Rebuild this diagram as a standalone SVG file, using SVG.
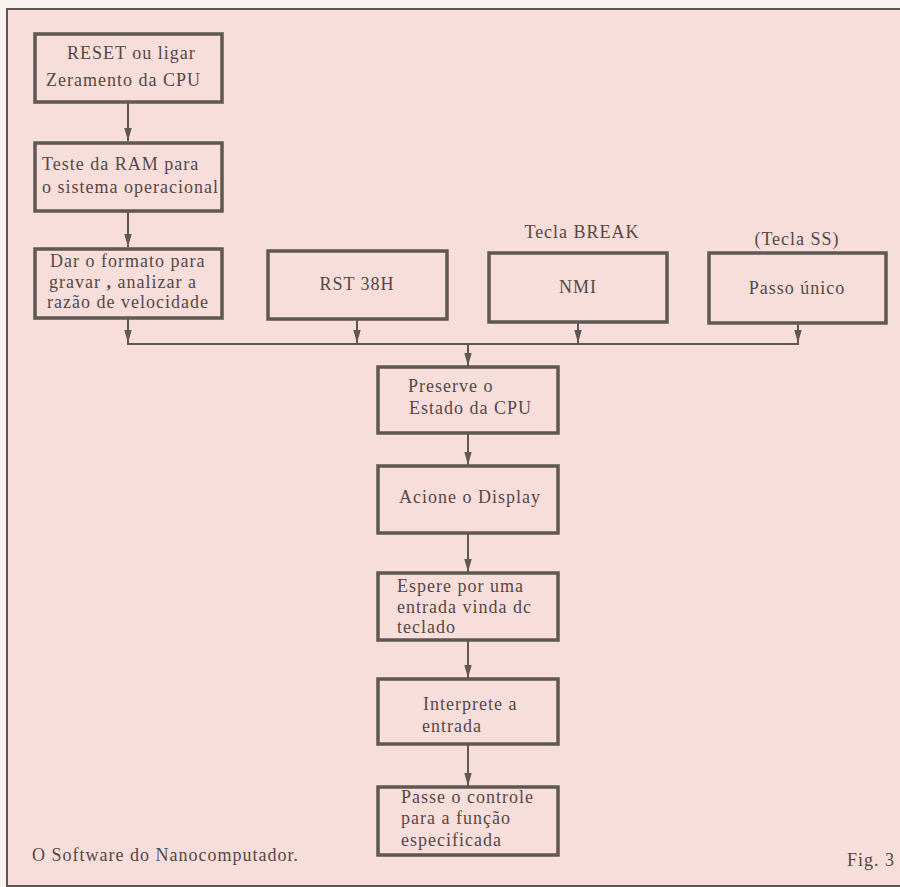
<svg xmlns="http://www.w3.org/2000/svg" width="900" height="887" viewBox="0 0 900 887">
<defs>
<marker id="ah" viewBox="0 0 13 14" refX="13" refY="7" markerWidth="13" markerHeight="14" markerUnits="userSpaceOnUse" orient="auto">
<path d="M0,3.3 L13,7 L0,10.7 Z" fill="#5e5753"/>
</marker>
</defs>
<style>
.box{fill:none;stroke:#5e5753;stroke-width:3.5}
.t{font-family:"Liberation Serif","Times New Roman",serif;font-size:18px;fill:#544845;letter-spacing:1px}
.c{stroke:#5e5753;stroke-width:2;fill:none}
.m{text-anchor:middle}
</style>
<rect x="0" y="0" width="900" height="887" fill="#fbf1ef"/>
<rect x="7" y="9" width="893" height="877" fill="#f8dedb"/>
<path d="M900,9 H7 V886 H900" fill="none" stroke="#5e5753" stroke-width="2"/>

<g id="connectors">
<line class="c" x1="128" y1="102" x2="128" y2="141" marker-end="url(#ah)"/>
<line class="c" x1="128" y1="211" x2="128" y2="247" marker-end="url(#ah)"/>
<line class="c" x1="128" y1="318" x2="128" y2="343" marker-end="url(#ah)"/>
<line class="c" x1="357" y1="319" x2="357" y2="343" marker-end="url(#ah)"/>
<line class="c" x1="578" y1="322" x2="578" y2="343" marker-end="url(#ah)"/>
<line class="c" x1="798" y1="323" x2="798" y2="343" marker-end="url(#ah)"/>
<line class="c" x1="127" y1="344" x2="799" y2="344"/>
<line class="c" x1="468" y1="344" x2="468" y2="366" marker-end="url(#ah)"/>
<line class="c" x1="468" y1="433" x2="468" y2="465" marker-end="url(#ah)"/>
<line class="c" x1="468" y1="533" x2="468" y2="572" marker-end="url(#ah)"/>
<line class="c" x1="468" y1="640" x2="468" y2="678" marker-end="url(#ah)"/>
<line class="c" x1="468" y1="744" x2="468" y2="786" marker-end="url(#ah)"/>
</g>

<g id="reset">
<rect class="box" x="35" y="34" width="187" height="68"/>
<text class="t" x="67" y="59">RESET ou ligar</text>
<text class="t" x="46" y="86">Zeramento da CPU</text>
</g>
<g id="ram">
<rect class="box" x="35" y="143" width="187" height="68"/>
<text class="t" x="42" y="170">Teste da RAM para</text>
<text class="t" x="42" y="193">o sistema operacional</text>
</g>
<g id="formato">
<rect class="box" x="35" y="249" width="187" height="69"/>
<text class="t" x="50" y="267">Dar o formato para</text>
<text class="t" x="49" y="288">gravar <tspan font-weight="bold">,</tspan> analizar a</text>
<text class="t" x="47" y="308">razão de velocidade</text>
</g>
<g id="rst">
<rect class="box" x="268" y="251" width="179" height="68"/>
<text class="t m" x="357" y="290">RST 38H</text>
</g>
<g id="nmi">
<text class="t m" x="582" y="238">Tecla BREAK</text>
<rect class="box" x="489" y="253" width="178" height="69"/>
<text class="t m" x="578" y="293">NMI</text>
</g>
<g id="passo">
<text class="t m" x="797" y="245">(Tecla SS)</text>
<rect class="box" x="709" y="253" width="177" height="70"/>
<text class="t m" x="797" y="294">Passo único</text>
</g>
<g id="preserve">
<rect class="box" x="378" y="367" width="180" height="66"/>
<text class="t" x="408" y="392">Preserve o</text>
<text class="t" x="409" y="414">Estado da CPU</text>
</g>
<g id="acione">
<rect class="box" x="378" y="466" width="180" height="67"/>
<text class="t" x="399" y="503">Acione o Display</text>
</g>
<g id="espere">
<rect class="box" x="378" y="573" width="180" height="67"/>
<text class="t" x="397" y="592">Espere por uma</text>
<text class="t" x="397" y="613">entrada vinda dc</text>
<text class="t" x="397" y="633">teclado</text>
</g>
<g id="interprete">
<rect class="box" x="378" y="679" width="180" height="65"/>
<text class="t" x="423" y="710">Interprete a</text>
<text class="t" x="422" y="732">entrada</text>
</g>
<g id="passe">
<rect class="box" x="378" y="787" width="180" height="68"/>
<text class="t" x="401" y="803">Passe o controle</text>
<text class="t" x="401" y="824">para a função</text>
<text class="t" x="401" y="846">especificada</text>
</g>
<text class="t" x="32" y="861">O Software do Nanocomputador.</text>
<text class="t" x="847" y="866">Fig. 3</text>
</svg>
